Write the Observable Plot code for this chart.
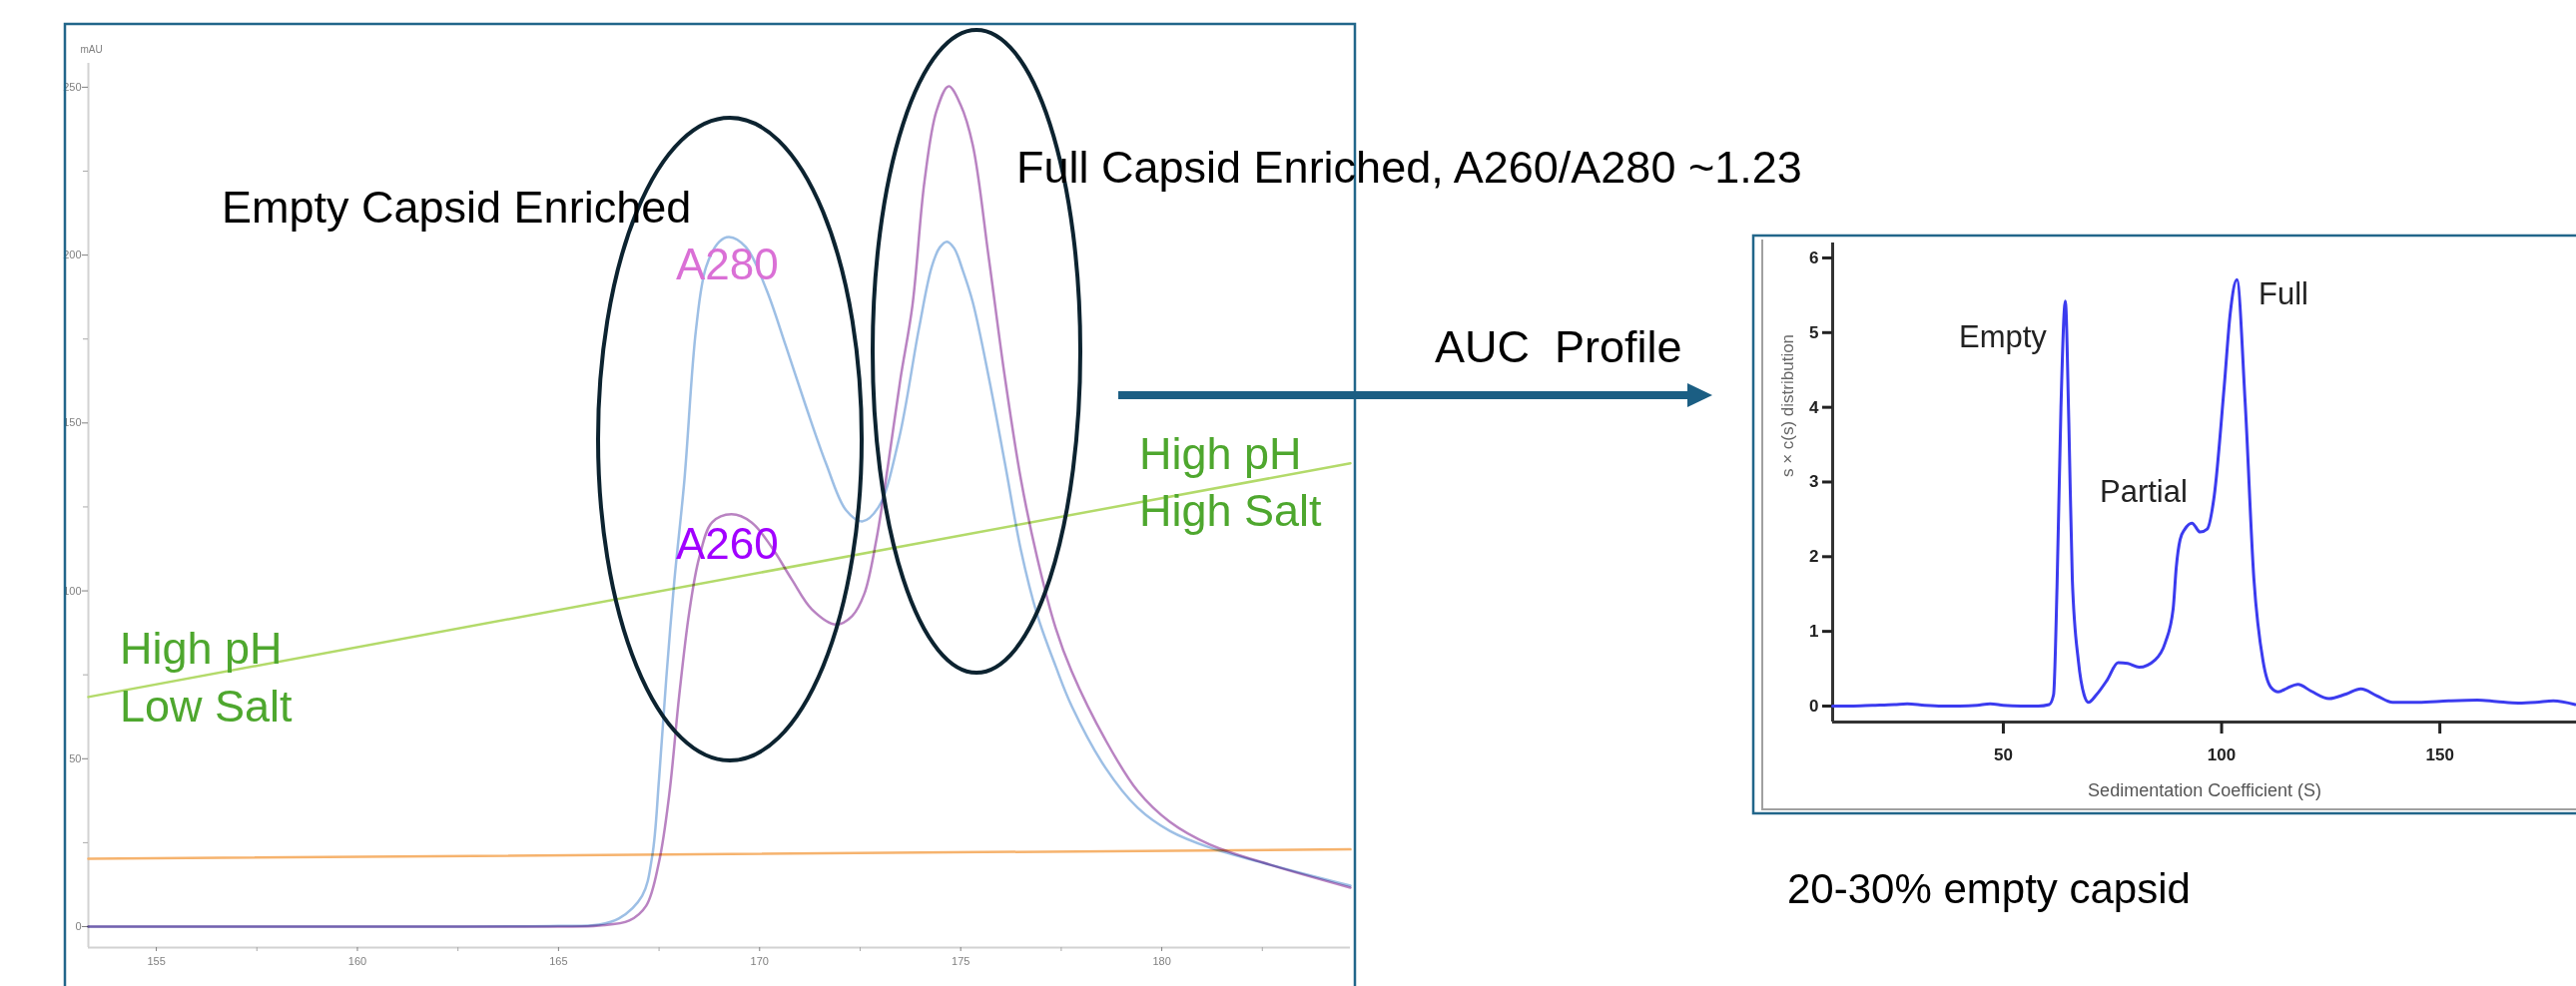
<!DOCTYPE html>
<html>
<head>
<meta charset="utf-8">
<script src="https://cdn.jsdelivr.net/npm/d3@7"></script>
<script src="https://cdn.jsdelivr.net/npm/@observablehq/plot@0.6"></script>
<style>
html, body { margin: 0; padding: 0; background: #fff; }
#page { position: relative; width: 2580px; height: 988px; overflow: hidden; background: #fff; font-family: "Liberation Sans", Arial, sans-serif; }
#page > svg { position: absolute; margin: 0; max-width: none; }
</style>
</head>
<body>
<div id="page"></div>
<script>
// ---------- Chromatogram (left) ----------
const a280Time = [153.31, 158, 162, 165, 166, 166.5, 167.08, 167.33, 167.5, 167.68, 167.88, 168.13, 168.42, 168.67, 169.0, 169.24, 169.66, 170.16, 170.65, 171.15, 171.65, 172.15, 172.55, 172.96, 173.46, 173.96, 174.28, 174.48, 174.66, 174.84, 175.05, 175.3, 175.7, 176.1, 176.5, 176.9, 177.36, 177.76, 178.6, 179.4, 180.2, 181.2, 182.7, 184.69];
const a280Abs  = [0, 0, 0, 0.2, 0.6, 2.4, 9.2, 21, 44, 74, 103, 133, 178, 196.5, 204, 205.4, 202.4, 190, 173, 155, 138, 124, 120.7, 125, 145, 178, 196.5, 202.3, 204, 202, 195.5, 186, 163.5, 138, 112, 93, 77.6, 65.7, 47.3, 35.4, 28.5, 23.5, 18.4, 12.2];
const a260Time = [153.31, 160, 165, 166, 166.76, 167.18, 167.5, 167.75, 168.0, 168.25, 168.5, 168.82, 169.3, 169.8, 170.3, 170.8, 171.3, 171.9, 172.3, 172.6, 172.9, 173.2, 173.5, 173.8, 174.1, 174.4, 174.7, 175.0, 175.3, 175.7, 176.1, 176.5, 176.9, 177.36, 177.76, 178.6, 179.4, 180.2, 181.2, 182.7, 184.69];
const a260Abs  = [0, 0, 0, 0.3, 1.8, 6.2, 19.3, 39, 68.7, 93.6, 110, 120.4, 122.8, 120.4, 113, 103.4, 94.5, 90, 92.5, 99, 115, 138, 163, 185, 222, 243, 250.3, 244.7, 232.8, 199, 163.5, 133, 110, 89, 76, 55.6, 40.4, 31.2, 24.4, 18.4, 11.6];
const gradientTime = [153.31, 184.69];
const gradientLevel = [68.4, 138];      // green gradient trace
const conductTime = [153.31, 184.69];
const conductLevel = [20.2, 23.0];      // orange trace
const mainXTicks = [155, 160, 165, 170, 175, 180];
const mainXMinor = [157.5, 162.5, 167.5, 172.5, 177.5, 182.5];
const mainYTicks = [0, 50, 100, 150, 200, 250];
const mainYMinor = [25, 75, 125, 175, 225];
const mainXDomain = [153.31, 184.69];
const mainYDomain = [-6.24, 257.1];

// ---------- AUC profile (inset) ----------
const aucS = [10.9, 15, 20, 25, 28, 32, 36, 40, 44, 47, 50, 54, 58, 60.5, 61.5, 62.3, 63.2, 64.2, 65.0, 65.8, 67.2, 68.5, 69.5, 71.3, 73.8, 76.3, 78.5, 81.1, 84.8, 87.1, 88.9, 89.6, 90.5, 91.6, 93.2, 95.1, 96.7, 98.3, 100.6, 102.0, 103.5, 105.4, 107.4, 109.5, 111.3, 113.0, 115.0, 117.5, 120.5, 124.6, 128.5, 131.9, 135.5, 139.2, 145, 152, 158.6, 163, 168, 172, 176, 181];
const aucC = [0, 0, 0.01, 0.02, 0.03, 0.01, 0, 0, 0.01, 0.03, 0.01, 0, 0, 0.02, 0.15, 1.6, 4.0, 5.42, 3.8, 1.7, 0.6, 0.15, 0.05, 0.15, 0.35, 0.58, 0.57, 0.52, 0.62, 0.85, 1.3, 1.85, 2.23, 2.37, 2.45, 2.33, 2.37, 2.81, 4.28, 5.27, 5.71, 4.06, 1.7, 0.6, 0.25, 0.19, 0.24, 0.29, 0.2, 0.1, 0.16, 0.23, 0.14, 0.05, 0.05, 0.07, 0.08, 0.06, 0.04, 0.05, 0.07, 0.02];
const aucXTicks = [50, 100, 150];
const aucYTicks = [0, 1, 2, 3, 4, 5, 6];
const aucXDomain = [10.9, 181.3];
const aucYDomain = [-0.214, 6.2];

const rows = (xs, ys) => xs.map((x, i) => ({x, y: ys[i]}));
const page = document.getElementById("page");

// ---------- main chart ----------
const mainChart = Plot.plot({
  width: 1357, height: 988,
  marginLeft: 88, marginRight: 5, marginTop: 63, marginBottom: 39,
  x: {domain: mainXDomain, label: null},
  y: {domain: mainYDomain, label: null},
  style: {fontFamily: "Liberation Sans, Arial, sans-serif", background: "transparent", overflow: "visible"},
  marks: [
    Plot.ruleX([mainXDomain[0]], {stroke: "#d2d2d2", strokeWidth: 2}),
    Plot.ruleY([mainYDomain[0]], {stroke: "#d2d2d2", strokeWidth: 2}),
    Plot.axisY(mainYTicks, {tickSize: 6, tickPadding: 1, fontSize: 11, color: "#808080"}),
    Plot.axisY(mainYMinor, {tickSize: 5, tickFormat: () => "", color: "#aaaaaa"}),
    Plot.axisX(mainXTicks, {tickSize: 4, tickPadding: 6, fontSize: 11, color: "#808080"}),
    Plot.axisX(mainXMinor, {tickSize: 4, tickFormat: () => "", color: "#aaaaaa"}),
    Plot.text(["mAU"], {frameAnchor: "top-left", dx: -8, dy: -18, fontSize: 10, fill: "#808080"}),
    Plot.line(rows(conductTime, conductLevel), {x: "x", y: "y", stroke: "#f6b36e", strokeWidth: 2.5}),
    Plot.line(rows(gradientTime, gradientLevel), {x: "x", y: "y", stroke: "#b3da6a", strokeWidth: 2.5}),
    Plot.line(rows(a280Time, a280Abs), {x: "x", y: "y", stroke: "#9dbfe5", strokeWidth: 2.5, curve: "catmull-rom", mixBlendMode: "multiply"}),
    Plot.line(rows(a260Time, a260Abs), {x: "x", y: "y", stroke: "#b983c2", strokeWidth: 2.5, curve: "catmull-rom", mixBlendMode: "multiply"})
  ]
});
mainChart.style.left = "0px";
mainChart.style.top = "0px";
page.appendChild(mainChart);

// ---------- inset AUC chart ----------
const aucChart = Plot.plot({
  width: 824, height: 578,
  marginLeft: 79, marginRight: 0, marginTop: 7, marginBottom: 91,
  x: {domain: aucXDomain, label: null},
  y: {domain: aucYDomain, label: null},
  style: {fontFamily: "Liberation Sans, Arial, sans-serif", background: "transparent", overflow: "visible"},
  marks: [
    Plot.ruleX([aucXDomain[0]], {stroke: "#333", strokeWidth: 3}),
    Plot.ruleY([aucYDomain[0]], {stroke: "#333", strokeWidth: 3}),
    Plot.axisY(aucYTicks, {tickSize: 10, tickPadding: 4, strokeWidth: 3, fontSize: 17, fontWeight: "bold", color: "#222", tickFormat: d => String(d)}),
    Plot.axisX(aucXTicks, {tickSize: 12, tickPadding: 14, strokeWidth: 3, fontSize: 17, fontWeight: "bold", color: "#222", tickFormat: d => String(d)}),
    Plot.text(["Sedimentation Coefficient (S)"], {frameAnchor: "bottom", dy: 74, fontSize: 18, fill: "#555"}),
    Plot.text(["s \u00d7 c(s) distribution"], {frameAnchor: "left", textAnchor: "middle", dx: -45, dy: -77, rotate: -90, fontSize: 17, fill: "#666"}),
    Plot.line(rows(aucS, aucC), {x: "x", y: "y", stroke: "#3b3bef", strokeWidth: 3, curve: "monotone-x"})
  ]
});
aucChart.style.left = "1756px";
aucChart.style.top = "236px";
page.appendChild(aucChart);

// ---------- annotations overlay ----------
const ns = "http://www.w3.org/2000/svg";
const overlay = document.createElementNS(ns, "svg");
overlay.setAttribute("width", 2580);
overlay.setAttribute("height", 988);
overlay.style.left = "0px";
overlay.style.top = "0px";
overlay.style.pointerEvents = "none";
overlay.innerHTML = `
  <path d="M65,990 V24 H1357 V990" fill="none" stroke="#22668a" stroke-width="2.5"/>
  <rect x="1756" y="236" width="900" height="579" fill="none" stroke="#22668a" stroke-width="2.5"/>
  <path d="M1765,240 V811 H2580" fill="none" stroke="#a0a0a0" stroke-width="2"/>
  <ellipse cx="731" cy="440" rx="132" ry="322" fill="none" stroke="#0c2330" stroke-width="4"/>
  <ellipse cx="978" cy="352" rx="104" ry="322" fill="none" stroke="#0c2330" stroke-width="4"/>
  <line x1="1120" y1="396" x2="1694" y2="396" stroke="#1b5e83" stroke-width="8"/>
  <polygon points="1690,384 1715,396 1690,408" fill="#1b5e83"/>
  <g font-family="Liberation Sans, Arial, sans-serif">
    <text x="222" y="223" font-size="45" fill="#000">Empty Capsid Enriched</text>
    <text x="1018" y="183" font-size="45" fill="#000">Full Capsid Enriched, A260/A280 ~1.23</text>
    <text x="677" y="280" font-size="44" fill="#da70d6">A280</text>
    <text x="677" y="560" font-size="44" fill="#a100ff">A260</text>
    <text x="120" y="665" font-size="45" fill="#4ea72e">High pH</text>
    <text x="120" y="723" font-size="45" fill="#4ea72e">Low Salt</text>
    <text x="1141" y="470" font-size="45" fill="#4ea72e">High pH</text>
    <text x="1141" y="527" font-size="45" fill="#4ea72e">High Salt</text>
    <text x="1437" y="363" font-size="45" fill="#000">AUC&#160; Profile</text>
    <text x="1790" y="905" font-size="42" fill="#000">20-30% empty capsid</text>
    <text x="1962" y="348" font-size="31" fill="#222">Empty</text>
    <text x="2103" y="503" font-size="31" fill="#222">Partial</text>
    <text x="2262" y="305" font-size="31" fill="#222">Full</text>
  </g>`;
page.appendChild(overlay);
</script>
</body>
</html>
